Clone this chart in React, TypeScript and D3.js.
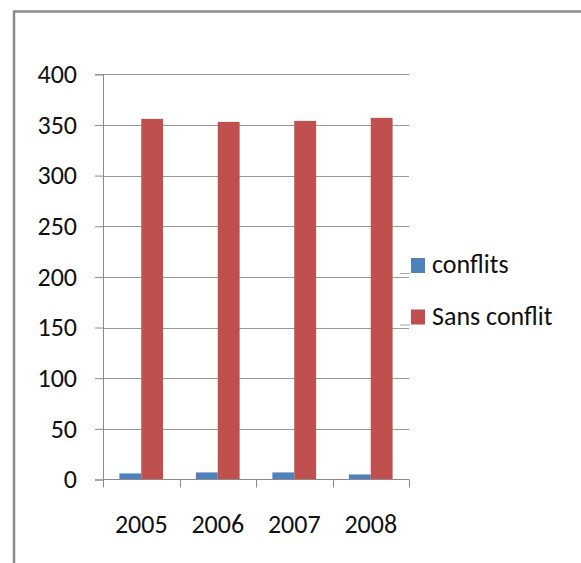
import React, { useEffect, useRef } from 'react';
import * as d3 from 'd3';

const years = ['2005', '2006', '2007', '2008'];
const seriesNames = ['conflits', 'Sans conflit'];
const conflits = [6, 7, 7, 5];
const sansConflit = [356, 353, 354, 357];
const yTicks = [0, 50, 100, 150, 200, 250, 300, 350, 400];
const colors = ['#4F81BD', '#C0504D'];

const W = 581;
const H = 563;
const FONT = "Carlito, Lato, 'Open Sans', sans-serif";
const FS = 26;

const App: React.FC = () => {
   const svgRef = useRef<SVGSVGElement | null>(null);

   useEffect(() => {
      if (!svgRef.current) return;
      const svg = d3.select(svgRef.current);
      svg.selectAll('*').remove();

      const left = 103;
      const right = 409;
      const top = 74.3;
      const bottom = 479.5;

      // outer frame (only left and top edges visible)
      svg.append('path')
         .attr('d', `M14,${H} V11.5 H${W}`)
         .attr('fill', 'none')
         .attr('stroke', '#8a8a8a')
         .attr('stroke-width', 2.5);

      const x0 = d3.scaleBand().domain(years).range([left, right]).padding(0);
      const x1 = d3.scaleBand().domain(seriesNames).range([0, x0.bandwidth()]).paddingOuter(0.75).paddingInner(0);
      const y = d3.scaleLinear().domain([0, 400]).range([bottom, top]);

      // gridlines
      svg.append('g')
         .selectAll('line')
         .data(yTicks.filter(t => t > 0))
         .enter()
         .append('line')
         .attr('x1', left)
         .attr('x2', right)
         .attr('y1', d => Math.round(y(d)) + 0.5)
         .attr('y2', d => Math.round(y(d)) + 0.5)
         .attr('stroke', '#9a9a9a')
         .attr('stroke-width', 1);

      // bars
      const rows = years.map((yr, i) => ({ year: yr, values: [conflits[i], sansConflit[i]] }));
      const groups = svg.append('g')
         .selectAll('g')
         .data(rows)
         .enter()
         .append('g')
         .attr('transform', d => `translate(${x0(d.year)},0)`);

      groups.selectAll('rect')
         .data(d => d.values.map((v, k) => ({ key: seriesNames[k], v, k })))
         .enter()
         .append('rect')
         .attr('x', d => x1(d.key)!)
         .attr('y', d => y(d.v))
         .attr('width', x1.bandwidth())
         .attr('height', d => bottom - y(d.v))
         .attr('fill', d => colors[d.k]);

      // y axis
      const yAxis = d3.axisLeft(y).tickValues(yTicks).tickSize(8).tickPadding(18);
      const gy = svg.append('g')
         .attr('transform', `translate(${left},0)`)
         .call(yAxis);
      gy.select('.domain').attr('stroke', '#8a8a8a');
      gy.selectAll('.tick line').attr('stroke', '#8a8a8a');
      gy.selectAll('.tick text')
         .attr('font-family', FONT)
         .attr('font-size', FS)
         .attr('font-weight', 300)
         .attr('fill', '#111');

      // x axis
      svg.append('line')
         .attr('x1', left)
         .attr('x2', right)
         .attr('y1', bottom)
         .attr('y2', bottom)
         .attr('stroke', '#8a8a8a');

      const bounds = [...years.map(d => x0(d)!), right];
      svg.append('g')
         .selectAll('line')
         .data(bounds)
         .enter()
         .append('line')
         .attr('x1', d => Math.round(d) + 0.5)
         .attr('x2', d => Math.round(d) + 0.5)
         .attr('y1', bottom)
         .attr('y2', bottom + 8)
         .attr('stroke', '#8a8a8a');

      svg.append('g')
         .selectAll('text')
         .data(years)
         .enter()
         .append('text')
         .attr('x', d => x0(d)! + x0.bandwidth() / 2)
         .attr('y', 533)
         .attr('text-anchor', 'middle')
         .attr('font-family', FONT)
         .attr('font-size', FS)
         .attr('font-weight', 300)
         .attr('fill', '#111')
         .text(d => d);

      // legend
      const legend = svg.append('g')
         .selectAll('g')
         .data(seriesNames)
         .enter()
         .append('g')
         .attr('transform', (d, i) => `translate(0,${273 + i * 51.5})`);

      legend.append('line')
         .attr('x1', 400)
         .attr('x2', 410)
         .attr('y1', 0.5)
         .attr('y2', 0.5)
         .attr('stroke', '#aaa');

      legend.append('rect')
         .attr('x', 411)
         .attr('y', -15)
         .attr('width', 14)
         .attr('height', 15)
         .attr('fill', (d, i) => colors[i]);

      legend.append('text')
         .attr('x', 432)
         .attr('y', 0)
         .attr('font-family', FONT)
         .attr('font-size', FS)
         .attr('font-weight', 300)
         .attr('fill', '#111')
         .text(d => d);
   }, []);

   return (
      <div style={{ position: 'fixed', left: 0, top: 0, width: W, height: H, background: '#fff' }}>
         <svg ref={svgRef} width={W} height={H} viewBox={`0 0 ${W} ${H}`} />
      </div>
   );
};

export default App;
